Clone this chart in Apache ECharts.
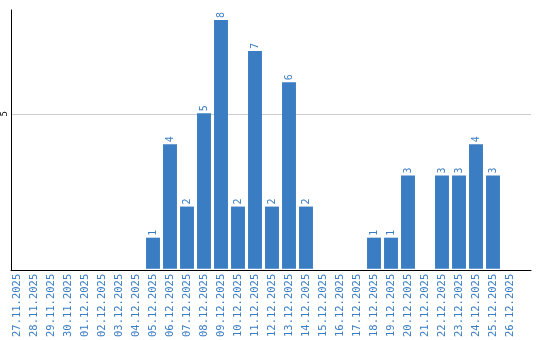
<!DOCTYPE html>
<html><head><meta charset="utf-8">
<script src="https://cdn.jsdelivr.net/npm/echarts@6/dist/echarts.min.js"></script>
<style>html,body{margin:0;padding:0;background:#fff}#c{width:540px;height:340px}</style>
</head><body><div id="c"></div>
<script>
const categories = ["27.11.2025","28.11.2025","29.11.2025","30.11.2025","01.12.2025","02.12.2025","03.12.2025","04.12.2025","05.12.2025","06.12.2025","07.12.2025","08.12.2025","09.12.2025","10.12.2025","11.12.2025","12.12.2025","13.12.2025","14.12.2025","15.12.2025","16.12.2025","17.12.2025","18.12.2025","19.12.2025","20.12.2025","21.12.2025","22.12.2025","23.12.2025","24.12.2025","25.12.2025","26.12.2025"];
const values = [0,0,0,0,0,0,0,0,1,4,2,5,8,2,7,2,6,2,0,0,0,1,1,3,0,3,3,4,3,0];
const yTicks = [5];
const yMax = 8.32;
const blue = '#3b7dc3';
const font = 'DejaVu Sans Mono';
const chart = echarts.init(document.getElementById('c'));
chart.setOption({
  animation: false,
  grid: [
    {left: 11, right: 9, top: 10, bottom: 70},
    {left: 8.5, right: 21.5, top: 10, bottom: 70}
  ],
  xAxis: [
    {gridIndex: 0, type: 'value', min: 0, max: 1, axisLine: {show: true, lineStyle: {color: '#000', width: 1}},
     axisTick: {show: false}, axisLabel: {show: false}, splitLine: {show: false}},
    {gridIndex: 1, type: 'category', data: categories, axisLine: {show: false}, axisTick: {show: false},
     axisLabel: {interval: 0, rotate: 90, color: blue, fontFamily: font, fontSize: 10.5, margin: 5}}
  ],
  yAxis: [
    {gridIndex: 0, type: 'value', min: 0, max: yMax, interval: 5,
     axisLine: {show: true, lineStyle: {color: '#000', width: 1}}, axisTick: {show: false},
     axisLabel: {rotate: 90, fontSize: 9, color: '#000', fontFamily: font, margin: 2,
       showMinLabel: false, showMaxLabel: false,
       formatter: v => yTicks.includes(v) ? String(v) : ''},
     splitLine: {show: true, showMinLine: false, showMaxLine: false, lineStyle: {color: '#cccccc', width: 1}}},
    {gridIndex: 1, type: 'value', min: 0, max: yMax, show: false, splitLine: {show: false}}
  ],
  series: [{
    type: 'bar', xAxisIndex: 1, yAxisIndex: 1, data: values,
    barCategoryGap: '18%',
    itemStyle: {color: blue},
    label: {show: true, position: 'top', rotate: 90, align: 'left', verticalAlign: 'middle', distance: 2,
      color: blue, fontFamily: font, fontSize: 10,
      formatter: p => p.value ? String(p.value) : ''}
  }]
});
</script></body></html>
